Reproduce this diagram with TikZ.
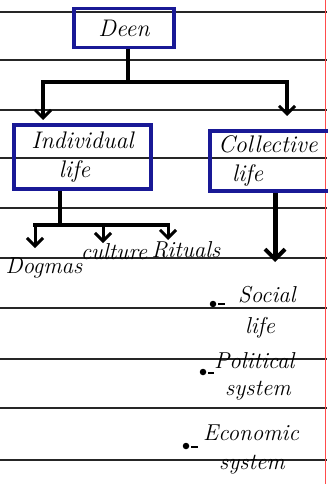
\documentclass[tikz,border=0pt]{standalone}
\usetikzlibrary{arrows.meta,calc}
\begin{document}
\begin{tikzpicture}[x=1pt,y=-1pt,
  hand/.style={font=\fontsize{23}{24}\selectfont\itshape, inner sep=0pt},
  bluebox/.style={draw={rgb,255:red,25;green,25;blue,150}, line width=3.5pt, align=center, font=\fontsize{24}{26}\selectfont\itshape},
  conn/.style={line width=3.5pt},
  arr/.style={line width=3.5pt, -{Straight Barb[length=8pt,width=16pt,line width=3pt]}},
  rule/.style={line width=2pt, black!85},
  bul/.style={circle, fill=black, inner sep=0pt, minimum size=6.5pt}]
\useasboundingbox (0,0) rectangle (327,484);
\fill[white] (0,0) rectangle (327,484);
% ruled lines
\foreach \yy in {12,60,110,158,208,258,308,359,408,460}
  \draw[rule] (0,\yy) -- (327,\yy);
\draw[red!70, line width=0.8pt] (325,0) -- (325,484);
% boxes
\node[bluebox, minimum width=100pt, minimum height=39pt] (deen) at (124,28) {Deen};
\node[bluebox, minimum width=137pt, minimum height=64pt, align=center] (indiv) at (82.5,157) {Individual\\[3pt]\hspace*{-16pt}life};
\node[bluebox, minimum width=120pt, minimum height=60pt, align=left, text width=104pt] (coll) at (270,161) {Collective\\[3pt]\hspace*{14pt}life};
% top connectors
\coordinate (j1) at (128,82);
\coordinate (iT) at (43,120);
\coordinate (cT) at (287,116);
\draw[conn] (deen.south -| j1) -- (j1);
\draw[arr] (j1) -| (iT);
\draw[arr] (j1) -| (cT);
% individual sub-branches
\coordinate (j2) at (60,225);
\node[hand] (dog) at (44,268) {Dogmas};
\node[hand] (cul) at (114,252) {culture};
\node[hand] (rit) at (186,250) {Rituals};
\coordinate (d1) at (35,248);
\coordinate (c1) at (103,243);
\coordinate (r1) at (168,240);
\draw[conn] (indiv.south -| j2) -- (j2);
\draw[conn] (33,225) -- (170,225);
\draw[arr,line width=3pt] (j2 -| d1) -- (d1);
\draw[arr,line width=3pt] (j2 -| c1) -- (c1);
\draw[arr,line width=3pt] (j2 -| r1) -- (r1);
% collective arrow
\coordinate (cE) at (275,262);
\draw[line width=5pt, -{Straight Barb[length=10pt,width=20pt,line width=4pt]}] (coll.south -| cE) -- (cE);
% bullets
\node[bul] (b1) at (213,304) {};
\node[hand, anchor=west] (s1) at (238,295) {Social};
\node[hand] (s2) at (260,328) {life};
\draw[line width=1.5pt] ($(b1)+(5,0)$) -- ($(b1)+(12,0)$);
\node[bul] (b2) at (203,372) {};
\node[hand, anchor=west] (p1) at (214,361) {Political};
\node[hand] (p2) at (258,391) {system};
\draw[line width=1.5pt] ($(b2)+(5,1)$) -- ($(b2)+(11,1)$);
\node[bul] (b3) at (186,446) {};
\node[hand, anchor=west] (e1) at (203,433) {Economic};
\node[hand] (e2) at (252,465) {system};
\draw[line width=1.5pt] ($(b3)+(5,1)$) -- ($(b3)+(12,1)$);
\end{tikzpicture}
\end{document}
